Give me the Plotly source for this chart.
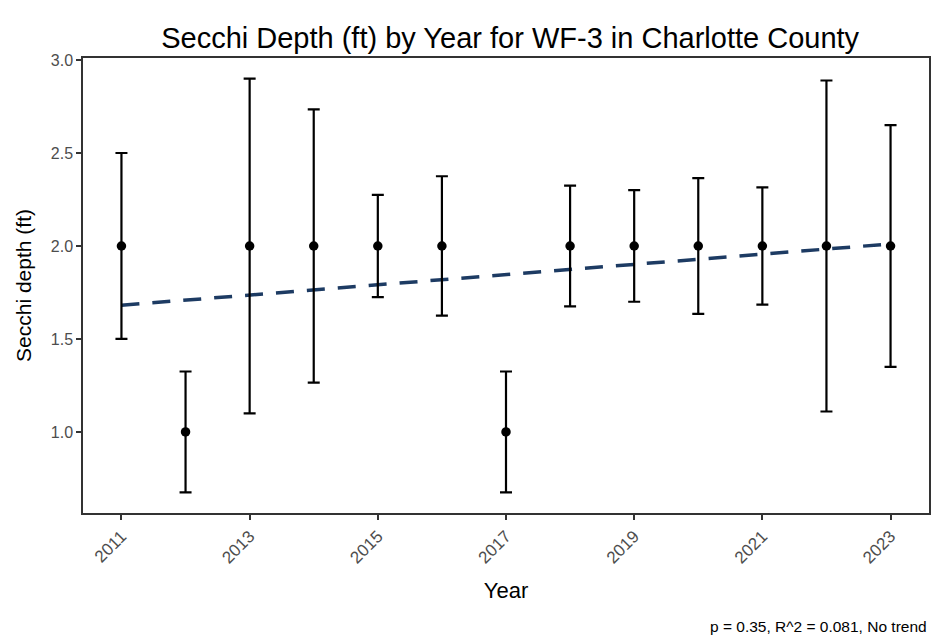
import numpy as np
import plotly.graph_objects as go

# Annual Secchi depth summary for station WF-3 (mean ± SD, feet)
years = [2011, 2012, 2013, 2014, 2015, 2016, 2017, 2018, 2019, 2020, 2021, 2022, 2023]
mean_depth = [2.00, 1.00, 2.00, 2.00, 2.00, 2.00, 1.00, 2.00, 2.00, 2.00, 2.00, 2.00, 2.00]
sd_depth = [0.50, 0.325, 0.90, 0.735, 0.275, 0.375, 0.325, 0.325, 0.30, 0.365, 0.315, 0.89, 0.65]

x_tick_vals = [2011, 2013, 2015, 2017, 2019, 2021, 2023]
x_tick_text = ["2011", "2013", "2015", "2017", "2019", "2021", "2023"]
y_tick_vals = [1.0, 1.5, 2.0, 2.5, 3.0]
y_tick_text = ["1.0", "1.5", "2.0", "2.5", "3.0"]

title_text = "Secchi Depth (ft) by Year for WF-3 in Charlotte County"
stats_text = "p = 0.35, R^2 = 0.081, No trend"

# Linear trend of the annual means
slope, intercept = np.polyfit(years, mean_depth, 1)
trend_x = [years[0], years[-1]]
trend_y = [slope * x + intercept for x in trend_x]

FONT = "Liberation Sans, Arial, sans-serif"
AXIS_GREY = "#4d4d4d"

fig = go.Figure()

fig.add_trace(go.Scatter(
    x=trend_x, y=trend_y, mode="lines",
    line=dict(color="#1d3b63", width=3.5, dash="18px,13px"),
    hoverinfo="skip", showlegend=False,
))

fig.add_trace(go.Scatter(
    x=years, y=mean_depth, mode="markers",
    marker=dict(color="black", size=9.5),
    error_y=dict(type="data", array=sd_depth, visible=True,
                 color="black", thickness=2.2, width=6),
    showlegend=False,
))

fig.update_layout(
    width=936, height=639,
    margin=dict(l=83, r=5, t=58, b=126),
    paper_bgcolor="white", plot_bgcolor="white",
    font=dict(family=FONT, color="black"),
    title=dict(text=title_text, x=0.545, xanchor="center", y=0.94, yanchor="middle",
               font=dict(family=FONT, size=29, color="black")),
    xaxis=dict(
        range=[2010.4, 2023.6], tickvals=x_tick_vals, ticktext=x_tick_text,
        tickangle=-45, tickfont=dict(size=17, color=AXIS_GREY),
        ticks="outside", ticklen=5, tickcolor="#333333", tickwidth=1.5,
        showgrid=False, zeroline=False,
        showline=True, linecolor="#333333", linewidth=1.5, mirror=True,
        title=dict(text="Year", font=dict(size=22, color="black"), standoff=16),
    ),
    yaxis=dict(
        range=[0.564, 3.011], tickvals=y_tick_vals, ticktext=y_tick_text,
        tickfont=dict(size=16, color=AXIS_GREY),
        ticks="outside", ticklen=5, tickcolor="#333333", tickwidth=1.5,
        showgrid=False, zeroline=False,
        showline=True, linecolor="#333333", linewidth=1.5, mirror=True,
        title=dict(text="Secchi depth (ft)", font=dict(size=21, color="black"), standoff=13),
    ),
    annotations=[dict(
        text=stats_text, xref="paper", yref="paper",
        x=1.0, y=-0.25, xanchor="right", yanchor="middle", showarrow=False,
        font=dict(family=FONT, size=15.5, color="black"),
    )],
)

fig.write_html("out.html")
